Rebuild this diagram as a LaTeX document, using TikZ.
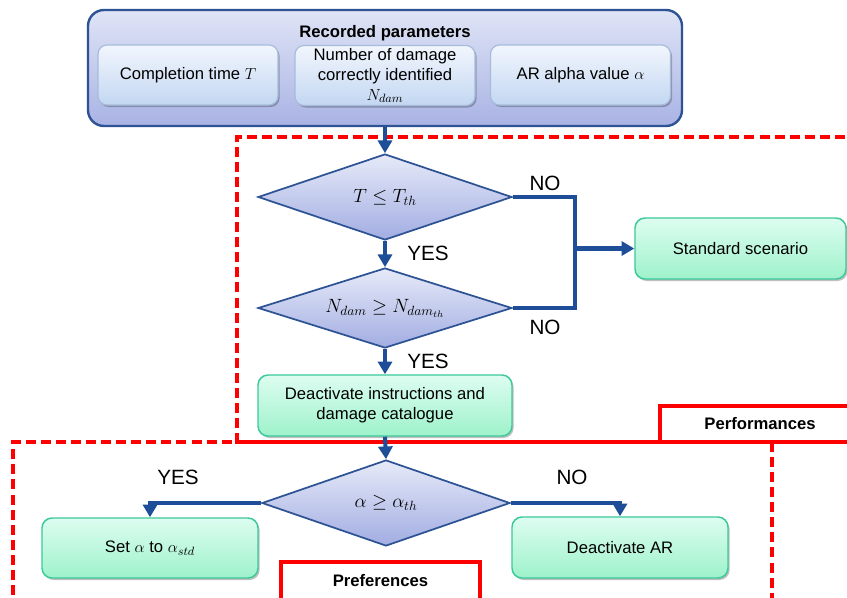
\documentclass[tikz,border=0pt]{standalone}
\usepackage{fontspec}
\setmainfont{Liberation Sans}
\usetikzlibrary{shapes.geometric,shadows,arrows.meta}
\newdimen\pxu \pxu=0.75pt
\definecolor{dblue}{HTML}{2E5395}
\definecolor{ablue}{HTML}{1F4E99}
\definecolor{otop}{HTML}{DFE4F6}
\definecolor{obot}{HTML}{A9B3E4}
\definecolor{itop}{HTML}{F2F6FD}
\definecolor{ibot}{HTML}{C3D7F2}
\definecolor{ibord}{HTML}{A6BCDA}
\definecolor{dtop}{HTML}{E6EAF8}
\definecolor{dbot}{HTML}{A2ADE2}
\definecolor{gtop}{HTML}{DDFDF0}
\definecolor{gbot}{HTML}{9EF2CB}
\definecolor{gbord}{HTML}{3CC99B}
\definecolor{rred}{HTML}{FF0000}
\begin{document}
\begin{tikzpicture}[x=0.75pt,y=-0.75pt,
  basefont/.style={font=\fontsize{12.5}{15}\selectfont},
  outerbox/.style={draw=dblue, line width=1.8pt, rounded corners=16\pxu,
    top color=otop, bottom color=obot, minimum width=594\pxu, minimum height=116\pxu},
  innerbox/.style={draw=ibord, line width=0.9pt, rounded corners=9\pxu,
    top color=itop, bottom color=ibot, minimum width=180\pxu, minimum height=60\pxu,
    align=center, basefont, inner sep=1pt,
    drop shadow={shadow xshift=1.2pt, shadow yshift=-1.5pt, opacity=0.25, fill=black}},
  decision/.style={diamond, aspect=3, inner sep=0pt, draw=dblue, line width=1.3pt,
    top color=dtop, bottom color=dbot, minimum width=254\pxu, minimum height=86\pxu,
    font=\fontsize{14.5}{17}\selectfont},
  greenbox/.style={draw=gbord, line width=1.1pt, rounded corners=10\pxu,
    top color=gtop, bottom color=gbot, align=center, basefont,
    drop shadow={shadow xshift=1.2pt, shadow yshift=-1.5pt, opacity=0.25, fill=black}},
  conn/.style={draw=ablue, line width=3.1pt, -{Triangle[length=9.5pt,width=10.5pt]}},
  connline/.style={draw=ablue, line width=3.1pt},
  yn/.style={font=\fontsize{15.5}{18}\selectfont},
  reddash/.style={draw=rred, line width=2.8pt, dash pattern=on 7.5pt off 3.8pt},
  redsolid/.style={draw=rred, line width=2.8pt},
  lbl/.style={font=\fontsize{12.5}{15}\selectfont\bfseries}
]
\clip (0,0) rectangle (847,597);
\fill[white] (0,0) rectangle (847,597);

% red dashed regions
\draw[reddash] (660,442) -- (237,442) -- (237,137) -- (860,137);
\draw[reddash] (13,610) -- (13,442) -- (660,442);
\draw[reddash] (772,442) -- (772,610);
\draw[redsolid] (870,406) -- (660,406) -- (660,442) -- (870,442);
\node[lbl] (perf) at (760,424) {Performances};
\draw[redsolid] (281,610) -- (281,562) -- (480,562) -- (480,610);
\node[lbl] (pref) at (380.5,581) {Preferences};

% recorded parameters
\node[outerbox] (rec) at (385,68) {};
\node[font=\fontsize{12.5}{15}\selectfont\bfseries] (rtitle) at (385,33) {Recorded parameters};
\node[innerbox] (in1) at (188,75) {Completion time $T$};
\node[innerbox] (in2) at (385,75.5) {Number of damage\\correctly identified\\$N_{dam}$};
\node[innerbox] (in3) at (580.5,75) {AR alpha value $\alpha$};

% decisions
\node[decision, minimum height=86\pxu] (d1) at (385,197) {$T \le T_{th}$};
\node[decision, minimum height=80\pxu] (d2) at (385,308) {$N_{dam} \ge N_{dam_{th}}$};
\node[decision, minimum width=248\pxu, minimum height=86\pxu] (d3) at (386,503) {$\alpha \ge \alpha_{th}$};

% boxes
\node[greenbox, minimum width=211\pxu, minimum height=61\pxu] (std) at (740.5,248.5) {Standard scenario};
\node[greenbox, minimum width=254\pxu, minimum height=61\pxu] (deact) at (385,405.5) {Deactivate instructions and\\damage catalogue};
\node[greenbox, minimum width=216\pxu, minimum height=60\pxu] (set) at (150,548) {Set $\alpha$ to $\alpha_{std}$};
\node[greenbox, minimum width=216\pxu, minimum height=61\pxu] (dar) at (620,547.5) {Deactivate AR};

% connectors
\coordinate (jn) at (575,248.5);
\draw[conn] (rec.south) -- (d1.north);
\draw[conn] (d1.south) -- (d2.north);
\draw[connline] (d1.east) -- (575,197) -- (575,308) -- (d2.east);
\draw[conn] (jn) -- (std.west);
\draw[conn] (d2.south) -- (deact.north);
\draw[conn] (deact.south) -- (d3.north);
\draw[conn] (d3.west) -- (set.north |- d3.west) -- (set.north);
\draw[conn] (d3.east) -- (dar.north |- d3.east) -- (dar.north);

% labels
\node[yn] (no1) at (545,183) {NO};
\node[yn] (yes1) at (428,253) {YES};
\node[yn] (no2) at (545,327) {NO};
\node[yn] (yes2) at (428,361) {YES};
\node[yn] (yes3) at (178,477) {YES};
\node[yn] (no3) at (572,477) {NO};
\end{tikzpicture}
\end{document}
